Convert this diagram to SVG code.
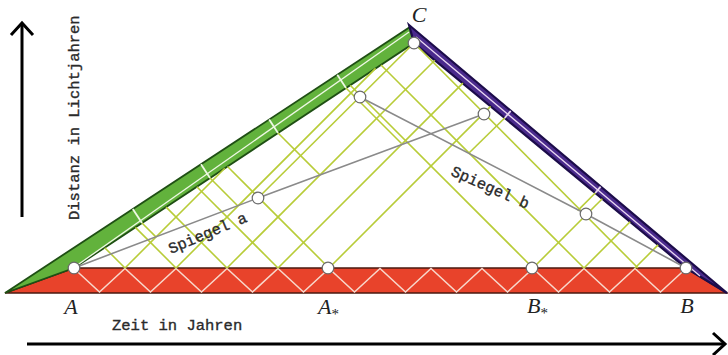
<svg xmlns="http://www.w3.org/2000/svg" width="728" height="355" viewBox="0 0 728 355">
<defs>
<style>
.lt{stroke:#b8cc38;stroke-width:1.6;fill:none}
.mir{stroke:#8a8a8a;stroke-width:1.6;fill:none}
.pt{fill:#fff;stroke:#6a6a6a;stroke-width:1.2}
.lbl{font-family:"Liberation Serif",serif;font-style:italic;font-size:22px;fill:#222}
.mono{font-family:"Liberation Mono",monospace;font-size:15.5px;fill:#2a2a2a;stroke:#2a2a2a;stroke-width:0.35}
.ax{stroke:#000;stroke-width:3;fill:none}
</style>
</defs>
<rect width="728" height="355" fill="#fff"/>
<g id="axes">
<line class="ax" x1="22" y1="217" x2="22" y2="24"/>
<polyline class="ax" points="11,35 22,23 33,35"/>
<line class="ax" x1="27" y1="344" x2="724" y2="344"/>
<polyline class="ax" points="713,333 725,344 713,355"/>
</g>
<g id="red-band">
<polygon points="5,293 74,268 686,268 727,293" fill="#e8432b" stroke="#4a1a10" stroke-width="1.5"/>
<polyline fill="none" stroke="#f8d8cc" stroke-width="1.5" points="74,268.5 99.5,292 125,268.5 150.5,292 176,268.5 201.5,292 227,268.5 252.5,292 278,268.5 303.5,292 329,268.5 354.5,292 380,268.5 405.5,292 431,268.5 456.5,292 482,268.5 507.5,292 533,268.5 558.5,292 584,268.5 609.5,292 635,268.5 660.5,292 686,268.5"/>
</g>
<g id="green-band">
<polygon points="5,293 410,27 414,43 74,268" fill="#62b23c" stroke="#1f4f14" stroke-width="1.8"/>
<line x1="76" y1="266" x2="409" y2="32" stroke="#eef8e4" stroke-width="1.3"/>
<g stroke="#eef8e4" stroke-width="1.8">
<line x1="142" y1="223" x2="132.8" y2="209"/>
<line x1="210" y1="178" x2="201" y2="164.3"/>
<line x1="278" y1="133" x2="269.2" y2="119.5"/>
<line x1="346" y1="88" x2="337.3" y2="74.8"/>
</g>
</g>
<g id="purple-band">
<polygon points="409,25 727,293 686,268 414,43" fill="#4a2a8c" stroke="#1c0c4a" stroke-width="2.2"/>
<line x1="416" y1="37" x2="700" y2="276" stroke="#ead8f2" stroke-width="1.3"/>
<g stroke="#ead8f2" stroke-width="1.8">
<line x1="504.7" y1="118" x2="510.7" y2="110.9"/>
<line x1="595.3" y1="193" x2="600.6" y2="186.6"/>
</g>
</g>
<g id="connectors">
<line class="lt" x1="125" y1="268" x2="104.7" y2="247.7"/>
<line class="lt" x1="176" y1="268" x2="135.4" y2="227.4"/>
<line class="lt" x1="227" y1="268" x2="166.1" y2="207.1"/>
<line class="lt" x1="278" y1="268" x2="196.8" y2="186.8"/>
<line class="lt" x1="329" y1="268" x2="227.5" y2="166.5"/>
<line class="lt" x1="125" y1="268" x2="224.8" y2="168.2"/>
<line class="lt" x1="176" y1="268" x2="375.6" y2="68.4"/>
<line class="lt" x1="227" y1="268" x2="434.8" y2="60.2"/>
<line class="lt" x1="278" y1="268" x2="462.9" y2="83.1"/>
<line class="lt" x1="329" y1="268" x2="490.6" y2="106.4"/>
<line class="lt" x1="533" y1="268" x2="350.2" y2="85.2"/>
<line class="lt" x1="584" y1="268" x2="381" y2="65"/>
<line class="lt" x1="638" y1="268" x2="414" y2="43"/>
<line class="lt" x1="533" y1="268" x2="602.3" y2="198.7"/>
<line class="lt" x1="584" y1="268" x2="630.2" y2="221.8"/>
<line class="lt" x1="635" y1="268" x2="658.1" y2="244.9"/>
<line class="lt" x1="414" y1="43" x2="258" y2="198"/>
<line class="lt" x1="142" y1="223" x2="155.9" y2="236.9"/>
<line class="lt" x1="210" y1="178" x2="237.7" y2="205.7"/>
<line class="lt" x1="278" y1="133" x2="319.6" y2="174.6"/>
<line class="lt" x1="346" y1="88" x2="401.5" y2="143.5"/>
<line class="lt" x1="469" y1="153" x2="504.7" y2="118"/>
<line class="lt" x1="577.7" y1="210.6" x2="595.3" y2="193"/>
<polyline class="mir" points="74,268 258,198 484,114"/>
<polyline class="mir" points="686,268 586,214 360,97"/>
</g>
<g id="points">
<circle id="pA" class="pt" cx="74" cy="268" r="5.8"/>
<circle id="pAs" class="pt" cx="328" cy="268" r="5.8"/>
<circle id="pBs" class="pt" cx="532" cy="268" r="5.8"/>
<circle id="pB" class="pt" cx="686" cy="268" r="5.8"/>
<circle id="pC" class="pt" cx="414" cy="43" r="5.8"/>
<circle id="pa1" class="pt" cx="258" cy="198" r="5.8"/>
<circle id="pa2" class="pt" cx="484" cy="114" r="5.8"/>
<circle id="pb1" class="pt" cx="360" cy="97" r="5.8"/>
<circle id="pb2" class="pt" cx="586" cy="214" r="5.8"/>
</g>
<g id="labels">
<text class="lbl" x="419" y="22" text-anchor="middle">C</text>
<text class="lbl" x="71" y="314" text-anchor="middle">A</text>
<text class="lbl" x="318" y="314">A<tspan font-size="15" font-style="normal" dy="5">*</tspan></text>
<text class="lbl" x="527" y="313">B<tspan font-size="15" font-style="normal" dy="5">*</tspan></text>
<text class="lbl" x="687" y="313" text-anchor="middle">B</text>
<text class="mono" x="112" y="330">Zeit in Jahren</text>
<text class="mono" transform="translate(79,220) rotate(-90)">Distanz in Lichtjahren</text>
<text class="mono" font-size="16" transform="translate(171,254) rotate(-23)">Spiegel a</text>
<text class="mono" font-size="16" transform="translate(450,175) rotate(24)">Spiegel b</text>
</g>
</svg>
